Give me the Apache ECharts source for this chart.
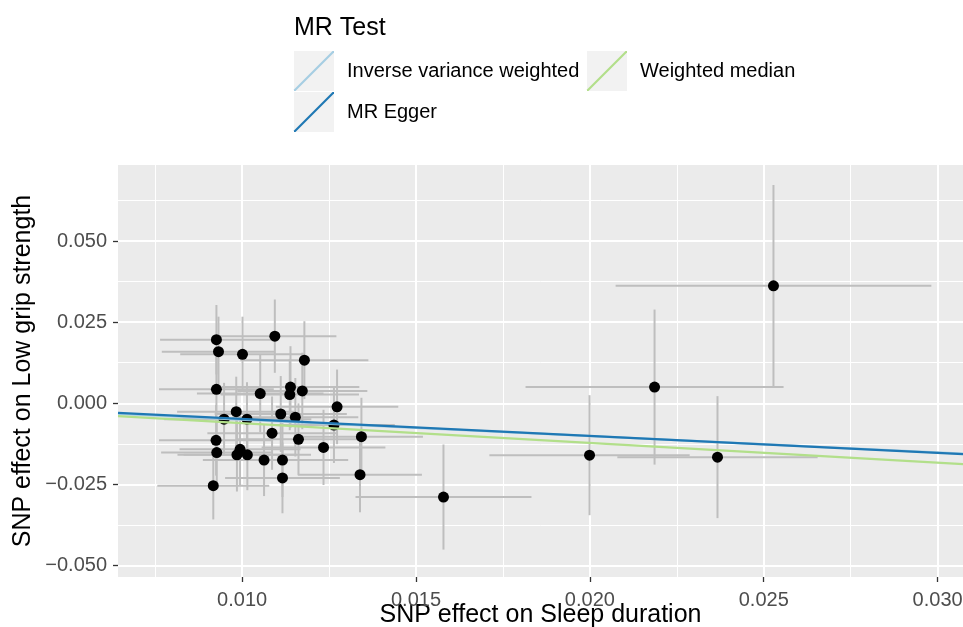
<!DOCTYPE html>
<html>
<head>
<meta charset="utf-8">
<script src="https://cdn.jsdelivr.net/npm/echarts@6/dist/echarts.min.js"></script>
<style>
  html, body { margin: 0; padding: 0; background: #fff; }
  #chart { width: 963px; height: 627px; }
</style>
</head>
<body>
<div id="chart"></div>
<script>
// SNP effects on sleep duration (exposure) and low grip strength (outcome)
const snpExposure = [
  0.02528, 0.02186, 0.01999, 0.02367, 0.01579,
  0.00926, 0.01094, 0.00932, 0.01001, 0.01179, 0.00926, 0.01052, 0.01139,
  0.01173, 0.01137, 0.01273, 0.00983, 0.00948, 0.01014, 0.01111, 0.01153,
  0.01264, 0.01086, 0.01343, 0.01162, 0.00925, 0.01234, 0.00927, 0.00994,
  0.00985, 0.01015, 0.01063, 0.01116, 0.01116, 0.01339, 0.00917
];
const snpOutcome = [
  0.0362, 0.0050, -0.0160, -0.0166, -0.0289,
  0.0196, 0.0207, 0.0159, 0.0151, 0.0133, 0.0043, 0.0030, 0.0050,
  0.0038, 0.0027, -0.0011, -0.0026, -0.0049, -0.0049, -0.0033, -0.0043,
  -0.0067, -0.0092, -0.0103, -0.0111, -0.0114, -0.0136, -0.0152, -0.0142,
  -0.0159, -0.0159, -0.0175, -0.0175, -0.0230, -0.0220, -0.0254
];
const seExposure = [
  0.00454, 0.00371, 0.00288, 0.00288, 0.00253,
  0.00162, 0.00177, 0.00163, 0.00179, 0.00184, 0.00165, 0.00182, 0.00198,
  0.00187, 0.00199, 0.00176, 0.00170, 0.00172, 0.00185, 0.00190, 0.00181,
  0.00175, 0.00186, 0.00177, 0.00180, 0.00164, 0.00178, 0.00160, 0.00174,
  0.00171, 0.00183, 0.00176, 0.00189, 0.00165, 0.00178, 0.00161
];
const seOutcome = [
  0.0311, 0.0239, 0.0185, 0.0188, 0.0162,
  0.0107, 0.0113, 0.0108, 0.0116, 0.0120, 0.0105, 0.0119, 0.0126,
  0.0118, 0.0110, 0.0115, 0.0108, 0.0112, 0.0114, 0.0117, 0.0121,
  0.0117, 0.0113, 0.0120, 0.0111, 0.0109, 0.0116, 0.0107, 0.0112,
  0.0113, 0.0109, 0.0111, 0.0114, 0.0109, 0.0116, 0.0104
];

// MR estimates: fitted lines y = intercept + slope * x
const methods = ['Inverse variance weighted', 'MR Egger', 'Weighted median'];
const methodSlope = [-0.505, -0.523, -0.611];
const methodIntercept = [0, 0.0004, 0];
const methodColors = ['#A6CEE3', '#1F78B4', '#B2DF8A'];

const xMajorTicks = [0.010, 0.015, 0.020, 0.025, 0.030];
const xMinorTicks = [0.0075, 0.0125, 0.0175, 0.0225, 0.0275];
const yMajorTicks = [-0.050, -0.025, 0, 0.025, 0.050];
const yMinorTicks = [-0.0375, -0.0125, 0.0125, 0.0375, 0.0625];
const xRange = [0.00643, 0.03073];
const yRange = [-0.05355, 0.07346];

const font = '"Liberation Sans", Arial, sans-serif';
const fmt = v => (v < 0 ? '\u2212' : '') + Math.abs(v).toFixed(3);

const chart = echarts.init(document.getElementById('chart'));

const points = snpExposure.map((x, i) => [x, snpOutcome[i], seExposure[i], seOutcome[i]]);

function renderErrorBars(params, api) {
  const x = api.value(0), y = api.value(1), sx = api.value(2), sy = api.value(3);
  const l = api.coord([x - sx, y]), r = api.coord([x + sx, y]);
  const t = api.coord([x, y + sy]), b = api.coord([x, y - sy]);
  const style = { stroke: '#BEBEBE', lineWidth: 2 };
  return {
    type: 'group',
    children: [
      { type: 'line', shape: { x1: t[0], y1: t[1], x2: b[0], y2: b[1] }, style: style },
      { type: 'line', shape: { x1: l[0], y1: l[1], x2: r[0], y2: r[1] }, style: style }
    ]
  };
}

const lineSeries = methods.map((name, i) => ({
  name: name,
  type: 'line',
  color: methodColors[i],
  symbol: 'none',
  silent: true,
  z: 5,
  lineStyle: { color: methodColors[i], width: 2.2 },
  itemStyle: { color: methodColors[i] },
  data: xRange.map(x => [x, methodIntercept[i] + methodSlope[i] * x])
}));

const keyIcon = 'path://M0,38.5L38.5,0L40,0L40,1.5L1.5,40L0,40Z';
const legendBase = {
  orient: 'vertical',
  top: 51,
  padding: 0,
  itemGap: 1,
  itemWidth: 40,
  itemHeight: 40,
  icon: keyIcon,
  selectedMode: false,
  itemStyle: { borderWidth: 0 },
  textStyle: { fontFamily: font, fontSize: 20, color: '#000', padding: [0, 0, 0, 8] }
};

const option = {
  animation: false,
  title: {
    text: 'MR Test',
    left: 294,
    top: 16,
    padding: 0,
    textStyle: { fontFamily: font, fontSize: 25, fontWeight: 'normal', color: '#000' }
  },
  legend: [
    Object.assign({}, legendBase, { left: 294, data: ['Inverse variance weighted', 'MR Egger'] }),
    Object.assign({}, legendBase, { left: 587, data: ['Weighted median'] })
  ],
  graphic: [
    { type: 'rect', left: 294, top: 51, shape: { width: 40, height: 40 }, style: { fill: '#F2F2F2' }, z: 1 },
    { type: 'rect', left: 294, top: 92, shape: { width: 40, height: 40 }, style: { fill: '#F2F2F2' }, z: 1 },
    { type: 'rect', left: 587, top: 51, shape: { width: 40, height: 40 }, style: { fill: '#F2F2F2' }, z: 1 }
  ],
  grid: {
    left: 118, right: 0, top: 165, bottom: 50,
    outerBoundsMode: 'none',
    containLabel: false,
    show: true, backgroundColor: '#EBEBEB', borderWidth: 0
  },
  xAxis: [
    {
      type: 'value', position: 'bottom', min: xRange[0], max: xRange[1],
      name: 'SNP effect on Sleep duration', nameLocation: 'middle', nameGap: 26,
      nameMoveOverlap: false,
      nameTextStyle: { fontFamily: font, fontSize: 25, color: '#000' },
      axisLine: { show: false, onZero: false },
      axisTick: { show: true, length: 5, customValues: xMajorTicks, lineStyle: { color: '#333', width: 1.3 } },
      axisLabel: { customValues: xMajorTicks, formatter: fmt, margin: 13, fontFamily: font, fontSize: 20, color: '#4D4D4D' },
      splitLine: { show: true, lineStyle: { color: '#FFFFFF', width: 2 } }
    },
    {
      type: 'value', position: 'top', min: xRange[0], max: xRange[1],
      axisLine: { show: false, onZero: false },
      axisTick: { show: false, customValues: xMinorTicks },
      axisLabel: { show: false, customValues: xMinorTicks },
      splitLine: { show: true, lineStyle: { color: '#FFFFFF', width: 1 } }
    }
  ],
  yAxis: [
    {
      type: 'value', position: 'left', min: yRange[0], max: yRange[1],
      name: 'SNP effect on Low grip strength', nameLocation: 'middle', nameGap: 82,
      nameMoveOverlap: false,
      nameTextStyle: { fontFamily: font, fontSize: 25, color: '#000' },
      axisLine: { show: false, onZero: false },
      axisTick: { show: true, length: 5, customValues: yMajorTicks, lineStyle: { color: '#333', width: 1.3 } },
      axisLabel: { customValues: yMajorTicks, formatter: fmt, margin: 11, fontFamily: font, fontSize: 20, color: '#4D4D4D' },
      splitLine: { show: true, lineStyle: { color: '#FFFFFF', width: 2 } }
    },
    {
      type: 'value', position: 'right', min: yRange[0], max: yRange[1],
      axisLine: { show: false, onZero: false },
      axisTick: { show: false, customValues: yMinorTicks },
      axisLabel: { show: false, customValues: yMinorTicks },
      splitLine: { show: true, lineStyle: { color: '#FFFFFF', width: 1 } }
    }
  ],
  series: [
    {
      type: 'custom',
      renderItem: renderErrorBars,
      encode: { x: 0, y: 1 },
      clip: true,
      silent: true,
      z: 2,
      data: points
    },
    {
      type: 'scatter',
      symbolSize: 11,
      itemStyle: { color: '#000', opacity: 1 },
      silent: true,
      z: 3,
      data: points.map(p => [p[0], p[1]])
    }
  ].concat(lineSeries)
};

chart.setOption(option);
</script>
</body>
</html>
